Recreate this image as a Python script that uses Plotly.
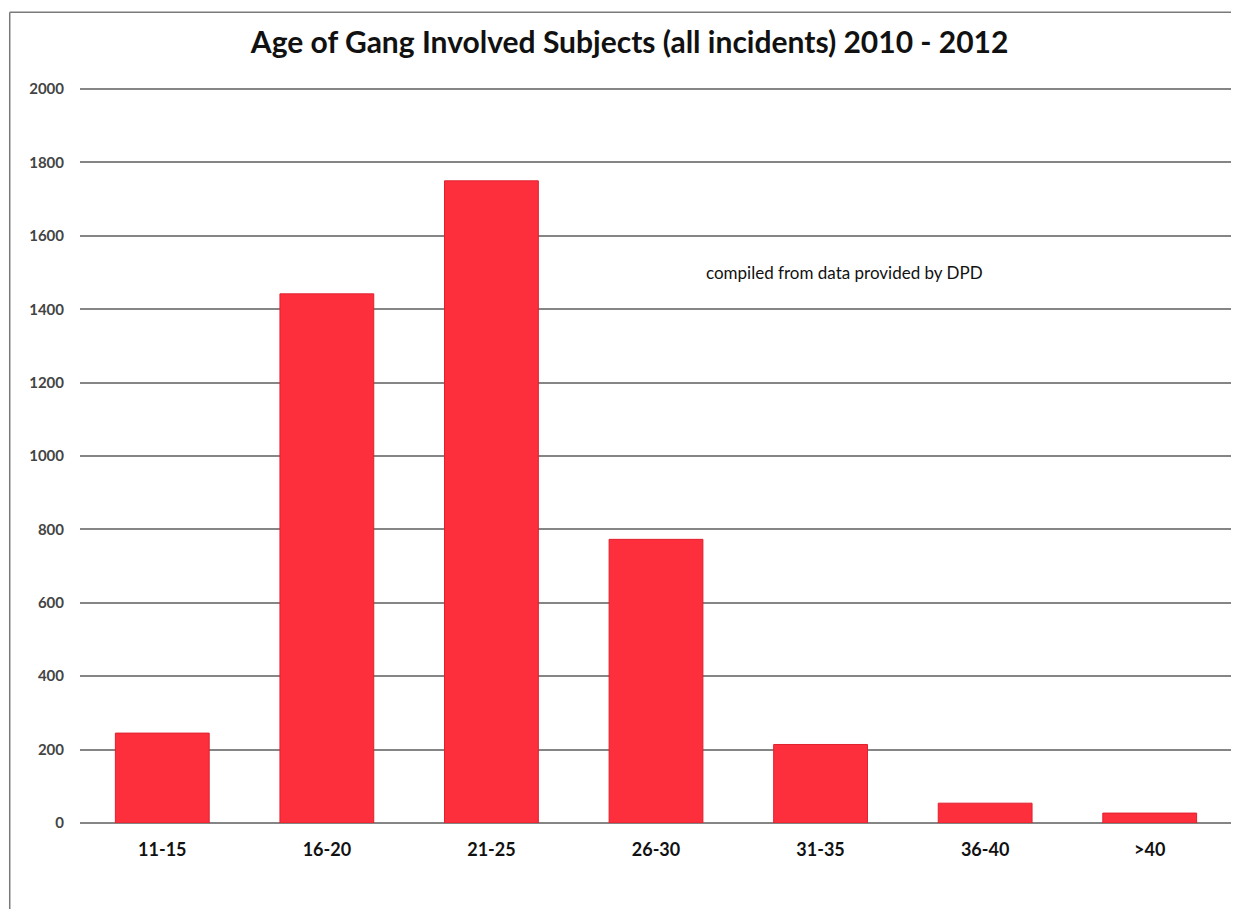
import plotly.graph_objects as go

AGE_GROUPS = ["11-15", "16-20", "21-25", "26-30", "31-35", "36-40", ">40"]
SUBJECTS = [245, 1442, 1750, 773, 214, 54, 27]

Y_TICKS = [0, 200, 400, 600, 800, 1000, 1200, 1400, 1600, 1800, 2000]

TITLE = "Age of Gang Involved Subjects (all incidents) 2010 - 2012"
NOTE = "compiled from data provided by DPD"

BAR_COLOR = "#fd2f3d"
GRID_COLOR = "#858585"

fig = go.Figure()
fig.add_trace(
    go.Bar(
        x=AGE_GROUPS,
        y=SUBJECTS,
        marker=dict(color=BAR_COLOR, line=dict(color="#e0202e", width=1)),
        hovertemplate="%{x}: %{y}<extra></extra>",
    )
)

fig.add_annotation(
    text=NOTE, x=0.542, y=1500, xref="paper", yref="y",
    xanchor="left", yanchor="middle", showarrow=False,
    font=dict(family="Lato", size=17, color="#111"),
)

# scanned page frame (left and top edges)
for x0, y0, x1, y1 in [(-0.061, -0.12, -0.061, 1.103), (-0.061, 1.103, 1.01, 1.103)]:
    fig.add_shape(type="line", xref="paper", yref="paper", x0=x0, y0=y0, x1=x1, y1=y1,
                  line=dict(color="#7a7a7a", width=1.5))

# page body has an 8px margin, so the figure is sized to fit inside it
fig.update_layout(
    width=1231,
    height=901,
    paper_bgcolor="white",
    plot_bgcolor="white",
    showlegend=False,
    bargap=0.43,
    margin=dict(l=72, r=7, t=80, b=86),
    title=dict(
        text=TITLE, x=0.505, xanchor="center", y=0.962, yanchor="middle",
        font=dict(family="Lato", size=30, color="#111", weight="bold"),
    ),
    font=dict(family="Lato"),
)
fig.update_xaxes(
    showgrid=False, showline=False, ticks="",
    ticklabelstandoff=14,
    tickfont=dict(family="Lato", size=18, color="#111", weight="bold"),
)
fig.update_yaxes(
    range=[0, 2003], tickvals=Y_TICKS,
    showgrid=True, gridcolor=GRID_COLOR, gridwidth=1.5,
    zeroline=True, zerolinecolor=GRID_COLOR, zerolinewidth=1.5,
    showline=False, ticks="", ticklabelstandoff=15,
    tickfont=dict(family="Lato", size=15, color="#444", weight="bold"),
)

fig.write_html("out.html")
